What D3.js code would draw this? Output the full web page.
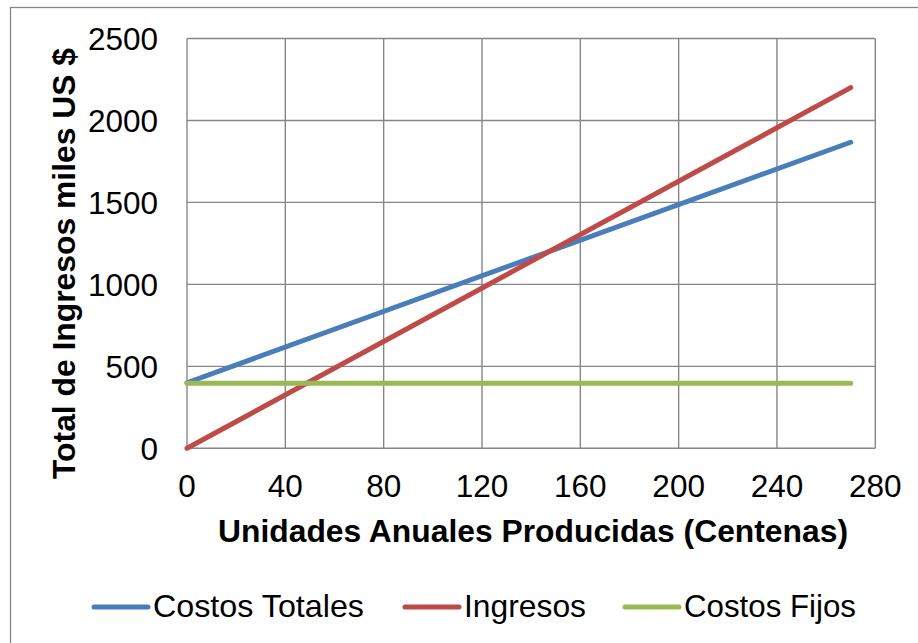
<!DOCTYPE html>
<html lang="es">
<head>
    <meta charset="UTF-8">
    <title>Punto de equilibrio</title>
    <script src="https://d3js.org/d3.v7.min.js"></script>
    <style>
        body {
            margin: 0;
            background: #fff;
        }
        svg text {
            font-family: 'Liberation Sans', Arial, sans-serif;
            fill: #000;
        }
    </style>
</head>
<body>
    <svg width="918" height="643"></svg>

    <script>
        // Data
        const unidades = [0, 270];
        const costosTotales = [400, 1867];
        const ingresos = [0, 2200];
        const costosFijos = [397, 397];

        const xTicks = [0, 40, 80, 120, 160, 200, 240, 280];
        const yTicks = [0, 500, 1000, 1500, 2000, 2500];

        const seriesNames = ["Costos Totales", "Ingresos", "Costos Fijos"];
        const seriesColors = ["#4a7ebb", "#be4b48", "#98b954"];
        const seriesValues = [costosTotales, ingresos, costosFijos];

        const svg = d3.select("svg");

        // outer chart frame
        svg.append("rect")
            .attr("x", 10.5).attr("y", 7.5)
            .attr("width", 920).attr("height", 650)
            .attr("fill", "none")
            .attr("stroke", "#868686")
            .attr("stroke-width", 1.3);

        const x = d3.scaleLinear().domain([0, 280]).range([187, 875.3]);
        const y = d3.scaleLinear().domain([0, 2500]).range([448.3, 38.5]);

        const grid = svg.append("g")
            .attr("stroke", "#868686")
            .attr("stroke-width", 1.4);

        grid.selectAll("line.v")
            .data(xTicks)
            .join("line")
            .attr("class", "v")
            .attr("x1", d => x(d)).attr("x2", d => x(d))
            .attr("y1", y(0)).attr("y2", y(2500));

        grid.selectAll("line.h")
            .data(yTicks)
            .join("line")
            .attr("class", "h")
            .attr("x1", x(0)).attr("x2", x(280))
            .attr("y1", d => y(d)).attr("y2", d => y(d));

        // tick labels
        svg.append("g")
            .selectAll("text")
            .data(yTicks)
            .join("text")
            .attr("x", 158)
            .attr("y", d => y(d))
            .attr("dy", "0.36em")
            .attr("text-anchor", "end")
            .attr("font-size", 31.5)
            .text(d => d);

        svg.append("g")
            .selectAll("text")
            .data(xTicks)
            .join("text")
            .attr("x", d => x(d))
            .attr("y", 497)
            .attr("text-anchor", "middle")
            .attr("font-size", 31.5)
            .text(d => d);

        // axis titles
        svg.append("text")
            .attr("x", 533)
            .attr("y", 542)
            .attr("text-anchor", "middle")
            .attr("font-size", 30.5)
            .attr("font-weight", "bold")
            .attr("textLength", 630)
            .attr("lengthAdjust", "spacingAndGlyphs")
            .text("Unidades Anuales Producidas (Centenas)");

        svg.append("text")
            .attr("transform", "translate(75,263.5) rotate(-90)")
            .attr("text-anchor", "middle")
            .attr("font-size", 31)
            .attr("font-weight", "bold")
            .attr("textLength", 431)
            .attr("lengthAdjust", "spacingAndGlyphs")
            .text("Total de Ingresos miles US $");

        // series lines
        const line = d3.line()
            .x((d, i) => x(unidades[i]))
            .y(d => y(d));

        svg.append("g")
            .selectAll("path")
            .data(seriesValues)
            .join("path")
            .attr("d", d => line(d))
            .attr("fill", "none")
            .attr("stroke", (d, i) => seriesColors[i])
            .attr("stroke-width", 5)
            .attr("stroke-linecap", "round");

        // legend
        const legendX = [94, 405, 625];
        const legendTextW = [211, 122, 172];
        const legend = svg.append("g")
            .selectAll("g")
            .data(seriesNames)
            .join("g")
            .attr("transform", (d, i) => `translate(${legendX[i]},607)`);

        legend.append("line")
            .attr("x1", 0).attr("x2", 54)
            .attr("stroke", (d, i) => seriesColors[i])
            .attr("stroke-width", 5)
            .attr("stroke-linecap", "round");

        legend.append("text")
            .attr("x", 59)
            .attr("y", 10)
            .attr("font-size", 31.5)
            .attr("textLength", (d, i) => legendTextW[i])
            .attr("lengthAdjust", "spacingAndGlyphs")
            .text(d => d);
    </script>
</body>
</html>
